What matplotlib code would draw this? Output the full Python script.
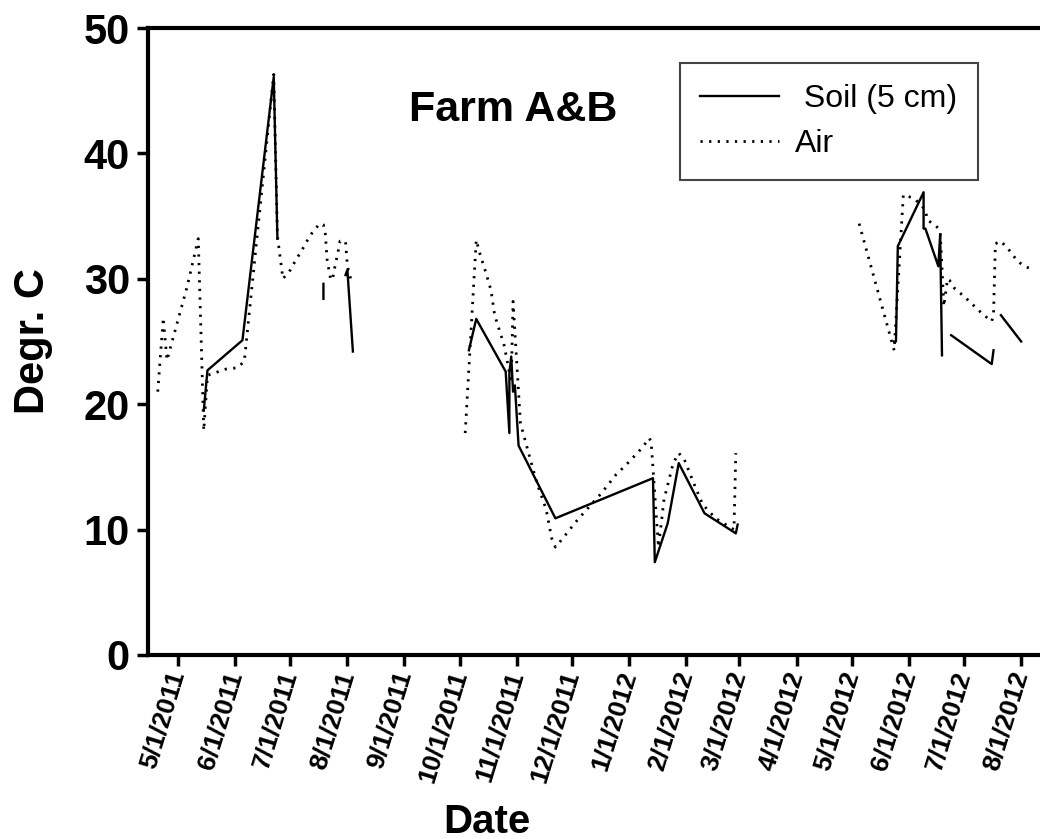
import matplotlib
matplotlib.use('Agg')
import matplotlib.pyplot as plt
import matplotlib.dates as mdates
import numpy as np
import pandas as pd

plt.rcParams['font.family'] = ['Liberation Sans', 'DejaVu Sans']

nan = np.nan

# soil temperature at 5 cm (gaps = nan)
soil_dates = ['2011-05-15', '2011-05-17', '2011-06-05', '2011-06-22', '2011-06-24',
              '2011-07-10',
              '2011-07-19', '2011-07-19',
              '2011-07-25',
              '2011-07-31', '2011-08-01', '2011-08-04',
              '2011-09-01',
              '2011-10-06', '2011-10-10', '2011-10-26', '2011-10-28', '2011-10-28',
              '2011-10-29', '2011-10-30', '2011-10-31', '2011-11-02', '2011-11-22',
              '2012-01-14', '2012-01-15', '2012-01-22', '2012-01-28', '2012-02-11',
              '2012-02-28', '2012-02-29',
              '2012-04-01',
              '2012-05-24', '2012-05-25', '2012-05-26', '2012-06-09', '2012-06-09',
              '2012-06-10', '2012-06-17', '2012-06-18', '2012-06-19',
              '2012-06-21',
              '2012-06-24', '2012-07-16', '2012-07-17',
              '2012-07-19',
              '2012-07-21', '2012-08-01']
soil_vals = [19.5, 22.7, 25.1, 46.1, 33.2,
             nan,
             29.6, 28.4,
             nan,
             30.3, 30.7, 24.2,
             nan,
             24.3, 26.8, 22.6, 17.7, 22.5,
             23.8, 21.0, 21.5, 16.7, 10.9,
             14.1, 7.4, 10.5, 15.3, 11.3,
             9.7, 10.4,
             nan,
             25.0, 25.0, 32.6, 36.9, 34.0,
             34.0, 31.0, 33.5, 23.9,
             nan,
             25.5, 23.2, 24.3,
             nan,
             27.1, 25.0]

# air temperature
air_dates = ['2011-04-20', '2011-04-23', '2011-04-25', '2011-05-06', '2011-05-12',
             '2011-05-15', '2011-05-17', '2011-05-23', '2011-05-27', '2011-06-02',
             '2011-06-06', '2011-06-22', '2011-06-24', '2011-06-27', '2011-07-01',
             '2011-07-04', '2011-07-07', '2011-07-10', '2011-07-13', '2011-07-17',
             '2011-07-19', '2011-07-20', '2011-07-21', '2011-07-23', '2011-07-24',
             '2011-07-25', '2011-07-27', '2011-07-28', '2011-07-31', '2011-08-01',
             '2011-08-03',
             '2011-09-01',
             '2011-10-04', '2011-10-10', '2011-10-12', '2011-10-15', '2011-10-18',
             '2011-10-20', '2011-10-23', '2011-10-25', '2011-10-27', '2011-10-29',
             '2011-10-30', '2011-11-03', '2011-11-08', '2011-11-12', '2011-11-17',
             '2011-11-20', '2011-11-22', '2011-11-26', '2011-12-03', '2011-12-09',
             '2011-12-17', '2011-12-25', '2011-12-30', '2012-01-08', '2012-01-12',
             '2012-01-13', '2012-01-17', '2012-01-20', '2012-01-25', '2012-01-28',
             '2012-01-31', '2012-02-06', '2012-02-10', '2012-02-17', '2012-02-27',
             '2012-02-28',
             '2012-04-01',
             '2012-05-05', '2012-05-24', '2012-05-29', '2012-06-04', '2012-06-10',
             '2012-06-11', '2012-06-15', '2012-06-18', '2012-06-20', '2012-06-22',
             '2012-06-23', '2012-06-26', '2012-07-01', '2012-07-06', '2012-07-11',
             '2012-07-16', '2012-07-17', '2012-07-18', '2012-07-21', '2012-07-26',
             '2012-07-30', '2012-08-03', '2012-08-06']
air_vals = [21.0, 26.9, 23.5, 29.4, 33.2,
            17.9, 22.3, 22.6, 22.8, 22.9,
            23.4, 46.3, 33.4, 30.0, 30.7,
            31.5, 32.2, 33.0, 33.7, 34.4,
            34.3, 33.6, 31.5, 29.9, 30.0,
            30.8, 32.2, 33.0, 33.0, 31.0,
            29.9,
            nan,
            17.7, 33.1, 32.0, 30.6, 29.1,
            27.1, 25.7, 24.8, 23.3, 21.7,
            28.2, 18.5, 15.8, 13.7, 11.6,
            9.3, 8.6, 9.3, 10.6, 11.6,
            12.9, 14.4, 15.1, 16.5, 17.3,
            17.0, 8.6, 12.4, 15.3, 16.1,
            15.6, 13.4, 12.0, 10.9, 10.0,
            16.1,
            nan,
            34.4, 24.3, 36.7, 36.4, 35.5,
            34.7, 34.3, 33.9, 27.8, 30.0,
            29.9, 29.2, 28.6, 27.9, 27.2,
            26.6, 27.2, 32.8, 33.0, 32.2,
            31.4, 31.0, 30.8]

tick_dates = pd.date_range('2011-05-01', '2012-08-01', freq='MS')

fig = plt.figure(figsize=(10.4, 8.39), dpi=100)
ax = fig.add_axes([148/1040, 184/839, 912/1040, 627/839])

ax.plot(pd.to_datetime(soil_dates), soil_vals, color='black', lw=1.7,
        label=' Soil (5 cm)')
ax.plot(pd.to_datetime(air_dates), air_vals, color='black', lw=2.0,
        linestyle=(0, (0.8, 2.3)), label='Air')

x0 = pd.Timestamp('2011-05-01') - pd.Timedelta(days=16.3)
ax.set_xlim(x0, x0 + pd.Timedelta(days=495.4))
ax.set_ylim(0, 50)
ax.set_yticks([0, 10, 20, 30, 40, 50])
ax.set_xticks(tick_dates)
ax.xaxis.set_major_formatter(mdates.DateFormatter('%-m/%-d/%Y'))

for lab in ax.get_xticklabels():
    lab.set_rotation(73)
    lab.set_ha('right')
    lab.set_va('center')
    lab.set_rotation_mode('anchor')
    lab.set_fontweight('bold')
    lab.set_fontsize(19)
for lab in ax.get_yticklabels():
    lab.set_fontweight('bold')
    lab.set_fontsize(30)

ax.tick_params(axis='both', direction='out', length=8, width=2.5)
ax.tick_params(axis='y', pad=5)
ax.tick_params(axis='x', pad=4)
for s in ['left', 'bottom', 'top']:
    ax.spines[s].set_linewidth(3)
ax.spines['right'].set_visible(False)

ax.set_xlabel('Date', fontsize=29, fontweight='bold')
ax.xaxis.set_label_coords(0.372, -0.236)
ax.set_ylabel('Degr. C', fontsize=30, fontweight='bold')
ax.yaxis.set_label_coords(-0.104, 0.5)

ax.text(0.40, 0.869, 'Farm A&B', transform=ax.transAxes, fontsize=31,
        fontweight='bold', ha='center', va='center')

leg = ax.legend(loc='upper left', bbox_to_anchor=(0.583, 0.944), fontsize=23,
                handlelength=2.45, handletextpad=0.5, labelspacing=0.47,
                borderpad=0.65, borderaxespad=0, fancybox=False, framealpha=1)
leg.get_frame().set_edgecolor('#444444')
leg.get_frame().set_linewidth(1.5)

fig.savefig('out.png', dpi=100)
